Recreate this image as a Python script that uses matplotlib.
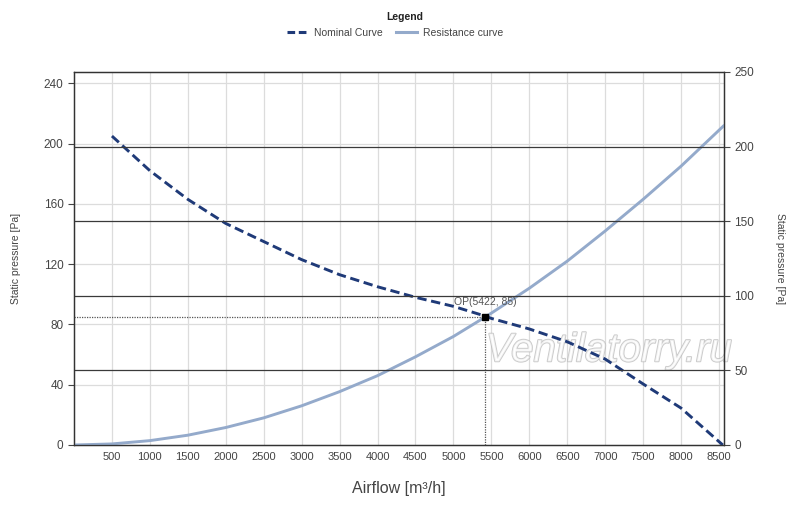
import matplotlib
matplotlib.use("Agg")
import matplotlib.pyplot as plt
import matplotlib.patheffects as pe
from matplotlib.lines import Line2D

plt.rcParams['font.family'] = ['Liberation Sans', 'DejaVu Sans']

# ---- data ----
nominal_flow = [500, 1000, 1500, 2000, 2500, 3000, 3500, 4000, 4500, 5000, 5422, 5500, 6000, 6500, 7000, 7500, 8000, 8550]
nominal_pressure = [205, 182, 163, 147, 135, 123, 113, 105, 98, 92, 85.5, 84, 77, 68.5, 57, 40.5, 24.5, 0]

resist_flow = [0, 500, 1000, 1500, 2000, 2500, 3000, 3500, 4000, 4500, 5000, 5422, 5500, 6000, 6500, 7000, 7500, 8000, 8566]
resist_pressure = [0, 0.7, 2.9, 6.5, 11.6, 18, 26, 35.4, 46, 58.5, 72, 85, 87.5, 104, 122, 142, 163, 185, 212]

op_flow = 5422
op_pressure = 85
op_label = "OP(5422, 85)"

x_ticks = [500, 1000, 1500, 2000, 2500, 3000, 3500, 4000, 4500, 5000, 5500, 6000, 6500, 7000, 7500, 8000, 8500]
left_ticks = [0, 40, 80, 120, 160, 200, 240]
right_ticks = [0, 50, 100, 150, 200, 250]

nominal_color = '#1f3a78'
resist_color = '#94aacb'
text_color = '#444444'

fig = plt.figure(figsize=(8.0, 5.07), dpi=100)
ax = fig.add_axes([0.0925, 0.1223, 0.8125, 0.7357])
ax2 = ax.twinx()

ax.set_xlim(0, 8566)
ax.set_ylim(0, 247.5)
ax2.set_ylim(0, 250)

# grids
for xt in x_ticks:
    ax.axvline(xt, color='#dcdcdc', lw=0.9, zorder=0)
for yt in left_ticks[1:]:
    ax.axhline(yt, color='#dcdcdc', lw=0.9, zorder=0)
for yt in right_ticks[1:-1]:
    ax2.axhline(yt, color='#3a3a3a', lw=0.9, zorder=1)

# watermark
ax.text(7046, 55.5, "Ventilatorry.ru", fontsize=29, style='italic', color='white',
        ha='center', va='baseline', zorder=2, alpha=0.75,
        path_effects=[pe.Stroke(linewidth=1.3, foreground='#b8b8b8'), pe.Normal()])

ax.plot(resist_flow, resist_pressure, color=resist_color, lw=2.1, zorder=3,
        solid_capstyle='round')
ax.plot(nominal_flow, nominal_pressure, color=nominal_color, lw=2.1, zorder=4,
        linestyle=(0, (3.2, 1.6)))

# operating point
ax.plot([0, op_flow], [op_pressure, op_pressure], color='#555555', lw=0.9,
        linestyle=(0, (1, 1)), zorder=5)
ax.plot([op_flow, op_flow], [0, op_pressure], color='#555555', lw=0.9,
        linestyle=(0, (1, 1)), zorder=5)
ax.plot([op_flow], [op_pressure], marker='s', color='black', markersize=4.5, zorder=6)
ax.annotate(op_label, (op_flow, op_pressure), xytext=(0, 7), textcoords='offset points',
            ha='center', va='bottom', fontsize=7.5, color='#555555', zorder=6)

# ticks
ax.set_xticks(x_ticks)
ax.set_yticks(left_ticks)
ax2.set_yticks(right_ticks)
ax.tick_params(axis='x', length=0, labelsize=8, colors=text_color, pad=5)
ax.tick_params(axis='y', length=4, labelsize=8.5, colors=text_color, width=0.8)
ax2.tick_params(axis='y', length=4, labelsize=8.5, colors=text_color, width=0.8)
for a in (ax, ax2):
    for s in a.spines.values():
        s.set_color('#333333')
        s.set_linewidth(0.9)

ax.set_ylabel("Static pressure [Pa]", fontsize=7.5, color=text_color, labelpad=16)
ax2.set_ylabel("Static pressure [Pa]", fontsize=7.5, color=text_color, rotation=270, labelpad=22)
ax.set_xlabel("Airflow [m³/h]", fontsize=11.5, color=text_color, labelpad=14)

# legend
fig.text(0.506, 1 - 17 / 507, "Legend", fontsize=7.5, fontweight='bold', color='#222222',
         ha='center', va='center')
handles = [Line2D([], [], color=nominal_color, lw=2.2, linestyle=(0, (2.5, 1.2))),
           Line2D([], [], color=resist_color, lw=2.2)]
leg = fig.legend(handles, ["Nominal Curve", "Resistance curve"], loc='center',
                 bbox_to_anchor=(0.494, 1 - 33 / 507), ncol=2, frameon=False, fontsize=7.5,
                 handlelength=2.0, columnspacing=1.3, handletextpad=0.6, borderpad=0.0)
for t in leg.get_texts():
    t.set_color(text_color)

fig.savefig("out.png", dpi=100)
